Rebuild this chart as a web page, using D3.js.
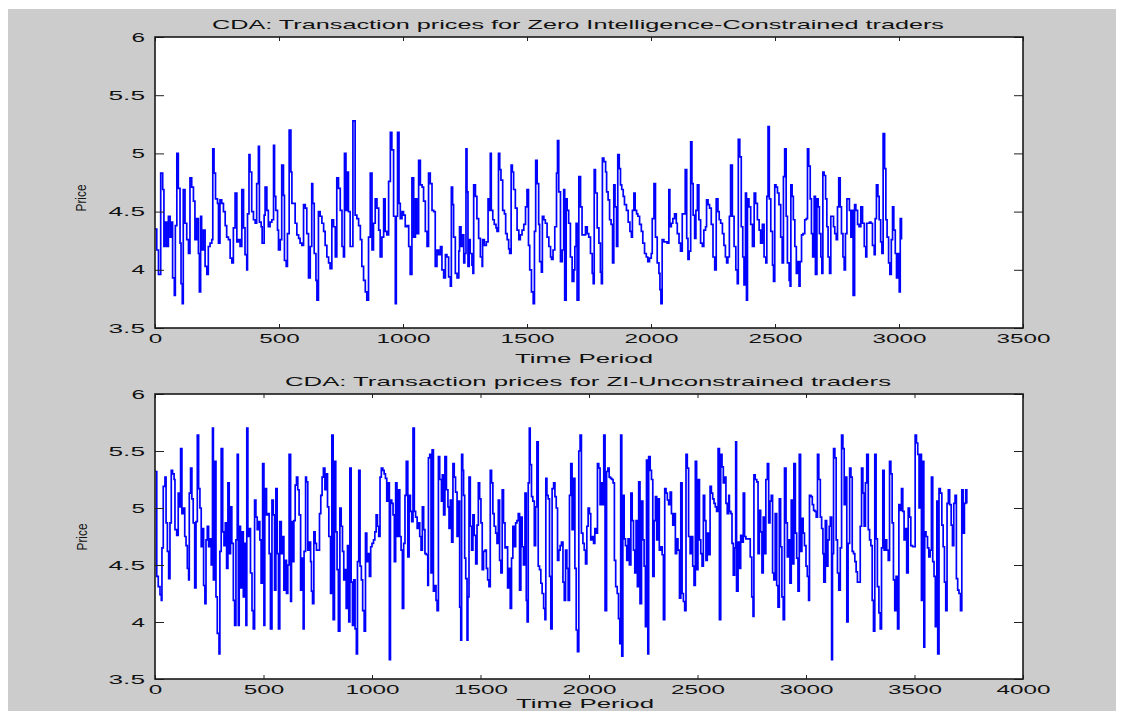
<!DOCTYPE html>
<html>
<head>
<meta charset="utf-8">
<script src="https://cdn.jsdelivr.net/npm/d3@7"></script>
<style>
  html, body { margin: 0; padding: 0; background: #ffffff; }
  svg { display: block; }
</style>
</head>
<body>
<svg id="fig" width="1124" height="711"></svg>
<script>
// ---- Axis ticks and labels ----
const priceTicks = [3.5, 4, 4.5, 5, 5.5, 6];
const timeTicksZIC = [0, 500, 1000, 1500, 2000, 2500, 3000, 3500];
const timeTicksZIU = [0, 500, 1000, 1500, 2000, 2500, 3000, 3500, 4000];
const titleZIC = "CDA: Transaction prices for Zero Intelligence-Constrained traders";
const titleZIU = "CDA: Transaction prices for ZI-Unconstrained traders";
const xLabel = "Time Period";
const yLabel = "Price";

// ---- Zero Intelligence-Constrained traders: transaction time and price ----
const timeZIC = [
0,7,14,23,31,36,40,47,54,61,67,71,78,82,88,94,101,105,110,114,121,128,135,141,148,155,161,168,175,179,
184,188,195,202,209,215,222,229,233,238,244,252,256,262,269,276,283,289,296,303,310,316,323,330,336,343,350,357,363,370,
373,379,383,390,397,404,410,417,421,428,432,440,444,451,457,464,471,478,482,487,494,498,505,511,518,522,529,534,541,548,
552,558,565,572,579,585,592,599,606,612,619,626,632,636,642,649,653,659,666,673,680,686,693,700,706,713,720,727,733,740,
747,754,760,764,770,774,780,787,794,798,807,814,821,828,834,841,848,854,861,868,875,881,888,895,902,908,915,922,928,935,
942,949,955,962,969,973,978,984,989,996,1002,1009,1016,1023,1029,1036,1043,1050,1056,1063,1070,1077,1083,1090,1097,1103,1110,1117,1124,1130,
1137,1144,1151,
1157,1164,1171,1177,1184,1191,1195,1200,1204,1211,1218,1225,1228,1234,1238,1245,1249,1254,1258,1262,
1267,1271,1278,1282,1285,1292,1298,1305,1312,1319,1321,1328,1336,1343,1347,1352,1356,1362,1368,1375,
1379,1385,1390,1395,1402,1409,1414,1420,1426,1430,1436,1441,1446,1453,1460,1467,1473,1480,1487,1494,
1500,1506,1511,1518,1525,1530,1535,1541,1547,1551,1558,1562,1568,1574,1581,1588,1595,1599,1605,1612,
1619,1623,1628,1635,1642,1648,1652,1658,1662,1668,1675,1682,1689,1693,1698,1702,1709,1716,1722,1729,
1736,1743,1749,1756,1763,1767,1771,1776,1783,1790,1796,1800,1804,1810,1817,1821,1827,1833,1839,1845,
1850,1855,1861,1866,1872,1877,1882,1888,1893,1901,1908,1915,1921,1925,1931,1936,1942,1947,1954,1961,
1967,1974,1981,1987,1994,2001,2005,2012,2018,2025,2032,2036,2040,2045,2052,2059,2065,2072,2076,2082,
2088,2095,2102,2106,2113,2119,2126,2133,2138,2144,2149,2154,2160,2165,2170,2176,2181,2187,2193,2200,
2207,2213,2220,2224,2230,2236,2243,2250,2257,2263,2270,2275,2281,2288,2294,2300,2305,2310,2316,2321,
2328,2335,2342,2348,2352,2358,2364,2370,2375,2381,2385,2389,2395,2402,2409,2416,2422,2429,2436,2442,
2449,2456,2463,2467,2472,2477,2483,2490,2494,2499,2504,2510,2516,2523,2529,2534,2539,2545,2550,2557,
2561,2564,2569,2574,2580,2586,2592,2597,2601,2607,2613,2620,2626,2631,2636,2642,2647,2652,2658,2663,
2669,2674,2679,2685,2689,2693,2698,2704,2709,2714,2720,2725,2730,2736,2741,2747,2752,2757,2763,2768,
2774,2779,2784,2790,2795,2800,2806,2811,2815,2821,2826,2833,2839,2846,2853,2860,2866,2870,2876,2881,
2887,2893,2900,2904,2909,2915,2920,2926,2931,2936,2942,2947,2952,2958,2963,2969,2974,2979,2985,2990,
2996,3001,3005,3010
];
const priceZIC = [
4.35,4.17,3.96,4.83,4.69,4.20,4.41,4.20,4.46,4.28,4.41,3.93,3.78,4.38,5.00,4.70,4.23,3.88,3.71,4.69,
4.40,4.26,4.14,4.79,4.71,4.59,4.26,4.44,4.14,3.81,4.46,4.17,4.34,4.03,3.96,4.20,4.23,4.26,5.04,4.83,
4.61,4.57,4.23,4.60,4.57,4.50,4.38,4.28,4.26,4.10,4.06,4.36,4.66,4.24,4.26,4.20,4.69,4.36,4.13,4.00,
4.48,4.99,4.84,4.50,4.43,4.40,4.74,5.06,4.41,4.37,4.23,4.47,4.71,4.51,4.37,4.41,4.43,5.07,4.63,4.51,
4.34,4.17,4.26,4.90,4.64,4.08,4.03,4.31,5.20,4.84,4.57,4.57,4.40,4.30,4.27,4.23,4.21,4.56,4.53,4.31,
3.93,4.20,4.74,4.57,4.14,3.91,3.74,4.50,4.46,4.40,4.33,4.21,4.11,4.06,4.01,4.43,4.37,4.11,4.79,4.70,
4.51,4.20,4.11,5.00,4.51,4.84,4.50,4.20,4.20,5.28,4.47,4.44,4.38,4.26,4.03,3.91,3.81,3.74,4.28,4.83,
4.17,4.40,4.61,4.53,4.34,4.11,4.28,4.61,4.33,4.30,4.76,5.18,5.03,4.46,3.71,4.46,5.18,4.57,4.44,4.50,
4.47,4.37,4.38,4.20,3.96,4.79,4.28,4.61,4.31,4.94,4.73,4.71,4.59,4.33,4.20,4.83,4.74,4.51,4.50,4.03,
4.17,4.13,4.20,
4.00,3.93,4.13,4.11,3.94,3.86,4.71,4.56,4.28,3.97,3.93,4.16,4.37,4.20,4.30,4.06,4.14,5.04,4.67,4.03,
4.26,4.14,4.04,3.97,4.73,4.63,4.44,4.27,4.11,4.03,4.26,4.21,4.24,4.61,4.51,5.00,4.51,4.43,4.39,4.36,
4.33,5.00,4.86,4.77,4.51,4.48,4.31,4.26,4.18,4.14,4.90,4.84,4.69,4.53,4.34,4.26,4.30,4.34,4.39,4.54,
4.69,4.21,4.00,3.81,3.71,4.33,4.94,4.74,4.39,4.07,3.98,4.46,4.43,4.40,4.28,4.20,4.11,4.09,4.17,4.37,
4.83,5.11,4.67,4.07,4.17,4.69,3.74,4.61,4.51,4.40,4.11,3.90,4.00,4.20,4.40,3.74,4.80,4.54,4.30,4.30,
4.37,4.31,4.28,4.14,3.97,3.88,4.86,4.66,4.36,4.23,3.98,3.88,4.96,4.93,4.84,4.67,4.60,4.43,4.39,4.06,
4.73,4.54,4.20,4.99,4.87,4.73,4.69,4.63,4.56,4.51,4.41,4.33,4.28,4.51,4.66,4.51,4.48,4.46,4.39,4.33,
4.23,4.14,4.11,4.07,4.10,4.14,4.44,4.74,4.28,4.06,3.97,3.83,3.71,4.26,4.24,4.24,4.23,4.69,4.37,4.40,
4.44,4.48,4.40,4.31,4.23,4.16,4.48,4.48,4.86,4.27,4.09,4.16,5.10,4.74,4.47,4.27,4.51,4.73,4.43,4.23,
4.20,4.34,4.37,4.60,4.56,4.53,4.39,4.11,4.00,4.61,4.50,4.43,4.40,4.31,4.21,4.11,4.06,4.11,4.46,4.90,
4.46,4.20,4.00,3.88,5.12,4.97,4.37,4.11,3.87,4.66,3.74,4.61,4.54,4.39,4.20,4.66,4.57,4.43,4.34,4.23,
4.39,4.11,4.06,4.63,5.23,4.61,4.33,4.04,3.90,4.73,4.71,4.66,4.56,4.28,4.06,4.80,5.04,4.46,4.06,3.91,
3.86,4.73,4.63,4.43,4.20,3.97,4.07,3.86,4.07,4.30,4.31,4.43,4.44,5.04,4.89,4.61,4.31,4.11,4.63,3.96,
4.61,4.54,4.31,4.11,3.97,4.84,4.81,4.61,4.37,4.11,3.97,4.46,4.46,4.37,4.31,4.26,4.54,4.79,4.54,4.31,
4.11,4.00,4.31,4.61,4.61,4.51,4.28,4.51,3.78,4.56,4.51,4.39,4.37,4.54,4.40,4.20,4.11,4.40,4.40,4.41,
4.40,4.21,4.13,4.44,4.73,4.63,4.43,4.24,4.14,5.17,4.87,4.43,4.28,4.06,3.96,4.26,4.54,4.34,4.14,3.93,
4.14,3.81,4.44,4.26
];

// ---- ZI-Unconstrained traders: transaction time and price ----
const timeZIU = [
0,8,15,23,29,32,38,46,51,57,63,69,75,81,88,92,100,107,112,118,124,130,137,143,149,155,158,164,170,176,
183,189,195,201,207,213,219,224,230,235,241,247,253,259,265,269,275,281,287,295,299,305,312,318,324,330,336,342,348,354,
361,367,373,379,384,388,394,400,407,413,419,423,428,434,440,447,453,459,465,471,477,483,489,496,502,506,514,520,526,532,
539,545,551,557,563,569,575,582,588,594,600,606,612,618,625,629,634,640,646,652,658,664,671,677,683,687,694,698,704,710,
717,721,726,732,738,744,752,758,764,770,776,783,789,795,801,809,815,821,827,833,839,845,852,858,864,870,875,881,887,893,
898,904,910,916,922,928,933,939,945,951,957,964,970,976,982,988,994,1000,1007,1013,1019,1025,1031,1037,1043,1050,1056,1062,1068,1074,
1080,1085,1091,1097,1103,1109,1115,1122,1128,1134,1140,1146,1152,1158,1165,1171,1177,1183,1189,1195,1201,1208,1214,1220,1226,1232,1238,1244,1250,1257,
1260,1266,1272,1277,1283,1289,1295,1300,1306,1312,
1320,1324,1330,1336,1343,1350,1355,1361,1367,1373,1379,1385,1392,1398,1404,1409,1413,1418,1422,1427,
1432,1438,1442,1447,1453,1459,1465,1471,1478,1484,1490,1496,1502,1508,1514,1521,1527,1533,1539,1545,
1551,1557,1563,1570,1576,1582,1588,1594,1600,1606,1613,1619,1625,1631,1637,1643,1649,1656,1662,1668,
1674,1680,1686,1692,1698,1705,1711,1715,1720,1725,1729,1735,1741,1748,1754,1760,1766,1772,1778,1784,
1791,1797,1801,1806,1812,1818,1824,1830,1837,1843,1849,1855,1861,1867,1873,1880,1886,1892,1898,1904,
1910,1916,1922,1929,1935,1941,1947,1953,1959,1965,1972,1978,1984,1990,1996,2002,2008,2015,2021,2027,
2033,2039,2045,2051,2057,2064,2068,2074,2081,2087,2093,2099,2105,2111,2117,2123,2130,2136,2142,2146,
2151,2156,2162,2168,2174,2180,2186,2193,2199,2205,2211,2217,2223,2229,2235,2242,2248,2254,2260,2265,
2271,2275,2282,2288,2294,2300,2306,2312,2318,2324,2331,2337,2343,2349,2355,2361,2367,2374,2380,2386,
2392,2398,2404,2410,2417,2423,2429,2435,2441,2447,2453,2459,2466,2472,2478,2484,2490,2496,2502,2509,
2515,2521,2527,2533,2539,2545,2552,2558,2564,2570,2576,2582,2588,2595,2601,2607,2613,2619,2625,2631,
2637,2644,
2647,2654,2659,2665,2671,2676,2680,2687,2693,2699,2705,2711,2717,2723,2731,2739,2743,2750,2756,2760,
2766,2773,2779,2785,2791,2797,2803,2809,2815,2822,2828,2834,2840,2846,2852,2858,2865,2871,2877,2883,
2889,2895,2901,2908,2914,2920,2926,2932,2938,2944,2951,2957,2963,2969,2975,2981,2987,2993,3000,3006,
3012,3016,3023,3029,3035,3041,3047,3053,3059,3066,3072,3078,3082,3089,3095,3101,3107,3112,3118,3122,
3127,3133,3139,3145,3151,3158,3164,3170,3176,3182,3188,3194,3201,3207,3213,3219,3225,3231,3237,3244,
3250,3256,3262,3268,3274,3280,3287,3293,3299,3305,3311,3317,3323,3329,3336,3342,3348,3354,3360,3366,
3372,3379,3385,3391,3397,3403,3409,3415,3422,3428,3434,3440,3446,3452,3458,3464,3471,3477,3483,3491,
3498,3503,3509,3515,3521,3527,3532,3537,3543,3547,3553,3560,3566,3572,3578,3584,3590,3596,3603,3607,
3613,3619,3626,3632,3638,3644,3650,3656,3662,3669,3675,3681,3687,3693,3699,3705,3712,3718,3724,3730,
3736,3741
];
const priceZIU = [
5.32,4.40,4.31,4.24,4.19,4.65,5.19,5.27,4.87,4.62,4.38,4.87,5.33,5.30,5.25,4.81,4.76,5.13,5.01,5.52,
4.95,5.00,4.75,4.67,4.47,4.37,5.13,5.35,5.08,4.87,4.30,4.88,5.64,5.17,5.00,4.66,4.82,4.32,4.16,4.72,
4.84,4.66,4.73,4.50,5.70,4.37,5.41,4.22,3.90,3.72,4.62,5.52,4.79,4.67,4.87,4.47,5.22,4.60,5.01,4.69,
4.19,3.97,4.72,5.47,3.97,4.84,4.30,4.79,4.22,4.69,3.97,5.70,4.75,4.82,4.43,4.10,3.94,5.07,4.92,4.81,
4.88,4.72,4.34,5.39,3.97,5.17,4.94,4.95,4.60,3.94,5.07,4.94,4.28,5.17,4.60,3.94,4.88,4.60,4.75,4.28,
4.54,4.25,4.50,5.47,4.18,4.88,4.53,4.89,5.20,5.27,5.16,4.94,4.28,4.56,3.94,4.62,5.27,5.23,4.63,4.70,
4.53,4.27,4.16,4.79,4.69,4.63,4.63,4.95,5.11,5.27,5.35,5.16,5.30,5.01,4.75,4.25,5.64,4.02,5.41,4.79,
4.46,3.92,5.00,4.84,4.62,4.37,4.46,4.12,4.67,4.00,5.35,4.35,3.97,4.37,3.94,3.72,4.53,5.33,4.49,4.37,
4.10,3.92,4.78,4.53,4.60,4.40,4.66,4.69,4.72,4.79,4.94,4.84,4.75,5.27,5.35,5.33,5.30,5.26,5.06,5.22,
3.67,5.07,5.04,4.94,4.53,5.22,4.75,5.16,4.75,4.63,4.12,4.69,5.11,5.41,4.57,5.11,4.97,4.88,5.70,4.97,
4.92,4.82,4.87,4.75,4.63,5.01,4.81,4.60,4.59,4.32,5.44,5.47,4.43,5.51,4.27,4.32,4.19,4.10,5.45,5.25,
5.06,5.29,4.94,5.45,5.16,5.01,4.82,5.07,4.70,5.39,5.27,5.14,4.75,5.06,4.13,3.84,5.47,5.33,5.11,4.56,
4.38,3.84,4.22,5.27,4.84,4.63,4.94,4.76,4.51,4.85,5.22,5.08,4.87,4.46,4.62,4.63,4.47,4.37,4.31,5.33,
5.22,4.95,4.84,4.78,4.69,5.07,4.54,4.43,5.16,4.87,4.65,4.66,4.30,4.47,4.12,4.56,4.84,4.66,4.87,4.89,
4.95,4.28,4.92,4.66,4.50,5.13,4.19,4.00,5.22,5.70,5.38,5.10,5.06,4.67,5.01,5.58,4.49,4.46,4.34,4.25,
4.12,4.02,5.26,5.11,5.08,4.40,3.94,5.17,5.22,5.10,5.00,4.54,4.63,4.67,4.70,4.35,4.19,4.63,4.47,4.19,
5.11,5.39,4.81,5.26,4.47,3.93,3.74,5.50,5.64,4.78,4.69,4.63,4.51,4.84,5.00,4.95,4.72,4.75,4.69,4.82,
4.78,5.39,5.35,5.03,5.22,5.03,5.64,4.10,5.32,5.35,5.27,5.26,5.25,5.22,4.54,4.31,4.25,4.03,3.81,5.64,
3.70,5.11,4.73,4.67,4.54,4.73,4.50,5.13,4.89,4.63,4.43,4.89,4.31,5.23,4.16,5.06,4.72,4.49,3.96,5.42,
3.72,5.45,5.33,5.25,4.40,4.89,5.10,4.72,5.08,4.63,4.66,4.59,4.02,5.17,5.13,5.07,5.03,5.14,4.95,4.85,
4.95,4.60,4.73,4.63,4.21,5.22,4.25,4.18,4.10,5.47,5.35,4.75,4.60,4.75,4.49,4.32,5.41,4.46,5.25,4.72,
4.60,4.49,5.11,4.89,4.54,4.78,4.59,5.19,5.13,5.08,5.04,5.01,4.97,5.52,4.02,5.47,5.36,5.22,5.27,5.04,
4.95,5.11,
4.97,4.95,4.69,4.41,4.65,5.58,4.27,4.70,4.47,4.76,4.70,5.13,4.75,4.73,4.73,4.73,4.57,4.22,4.05,5.29,
5.25,5.23,4.60,4.98,4.79,4.43,4.92,4.60,5.25,5.39,4.87,5.06,5.11,4.43,4.37,4.95,4.32,4.13,5.08,4.66,
4.22,4.02,5.35,4.87,4.57,4.72,4.34,5.07,4.51,5.39,4.78,4.56,4.27,5.47,4.62,4.91,4.78,4.67,4.49,4.40,
4.19,5.11,5.10,5.03,4.98,4.97,4.92,5.47,5.25,4.92,4.82,4.60,4.35,4.89,4.49,4.72,4.84,4.92,3.67,4.60,
5.52,5.44,4.72,4.43,4.28,4.65,5.64,5.52,5.03,5.27,4.00,4.69,5.35,5.27,4.62,4.60,4.53,4.44,4.35,4.35,
4.84,5.35,5.13,4.84,5.22,5.47,4.81,4.72,4.67,4.19,3.92,5.47,4.73,4.31,4.08,3.94,4.65,5.33,4.63,4.72,
4.63,4.54,5.41,5.30,4.87,4.37,4.10,4.40,3.94,5.03,4.98,5.17,4.97,4.72,4.82,4.43,5.00,4.92,4.67,4.66,
4.66,5.64,5.57,5.47,5.00,5.47,4.19,5.41,3.78,4.79,4.75,4.65,4.57,4.63,5.27,4.53,4.40,3.96,5.06,3.72,
5.17,5.13,4.85,4.66,4.35,4.10,5.04,5.16,5.03,4.85,4.67,5.04,5.11,4.38,4.28,4.25,4.10,5.16,4.78,5.04,
5.16,5.04
];

// ---- Figure ----
const W = 1124, H = 711;
const FONT = '"Liberation Sans", Arial, Helvetica, sans-serif';
const FS = 13;
const INK = '#111111';

const svg = d3.select('#fig');

// grey figure background
svg.append('rect')
  .attr('x', 8).attr('y', 9)
  .attr('width', 1108).attr('height', H - 9)
  .attr('fill', '#cccccc');

// the figure's text is drawn wide; each label gets an explicit length
const glyphW = ch => (ch === '.' ? 9.5 : 13.5);
const labelWidth = s => String(s).split('').reduce((a, c) => a + glyphW(c), 0);

function wideText(g, str, x, y, width, anchor) {
  return g.append('text')
    .attr('x', x).attr('y', y)
    .attr('text-anchor', anchor || 'middle')
    .attr('textLength', width)
    .attr('lengthAdjust', 'spacingAndGlyphs')
    .attr('font-family', FONT)
    .attr('font-size', FS)
    .attr('fill', INK)
    .text(str);
}

function drawPanel(p) {
  const g = svg.append('g');
  const x = d3.scaleLinear().domain([0, p.xMax]).range([p.left, p.right]);
  const y = d3.scaleLinear().domain([3.5, 6]).range([p.bottom, p.top]);

  // white plotting area
  g.append('rect')
    .attr('x', p.left).attr('y', p.top)
    .attr('width', p.right - p.left).attr('height', p.bottom - p.top)
    .attr('fill', '#ffffff');

  // price series
  const clipId = 'clip-' + p.id;
  svg.append('clipPath').attr('id', clipId)
    .append('rect')
    .attr('x', p.left).attr('y', p.top)
    .attr('width', p.right - p.left).attr('height', p.bottom - p.top);

  const series = p.times.map((t, i) => [t, p.prices[i]]);
  const line = d3.line()
    .x(d => x(d[0]))
    .y(d => y(d[1]))
    .curve(d3.curveStepAfter);

  g.append('path')
    .datum(series)
    .attr('clip-path', 'url(#' + clipId + ')')
    .attr('d', line)
    .attr('fill', 'none')
    .attr('stroke', '#0000ff')
    .attr('stroke-width', 1.7)
    .attr('stroke-linejoin', 'miter');

  // axes with inward ticks on all four sides
  const styleAxis = (sel) => {
    sel.select('.domain').remove();
    sel.selectAll('.tick line').attr('stroke', '#222').attr('stroke-width', 1);
  };

  const xb = g.append('g').attr('transform', `translate(0,${p.bottom})`)
    .call(d3.axisBottom(x).tickValues(p.xTicks).tickSizeInner(-4).tickSizeOuter(0).tickPadding(p.xPad).tickFormat(d3.format('d')));
  styleAxis(xb);
  xb.selectAll('.tick text').each(function (d) {
    const s = String(d);
    d3.select(this)
      .attr('font-family', FONT).attr('font-size', FS).attr('fill', INK)
      .attr('textLength', labelWidth(s)).attr('lengthAdjust', 'spacingAndGlyphs');
  });

  const xt = g.append('g').attr('transform', `translate(0,${p.top})`)
    .call(d3.axisTop(x).tickValues(p.xTicks).tickSizeInner(-4).tickSizeOuter(0).tickFormat(''));
  styleAxis(xt);

  const yl = g.append('g').attr('transform', `translate(${p.left},0)`)
    .call(d3.axisLeft(y).tickValues(priceTicks).tickSizeInner(-9).tickSizeOuter(0).tickPadding(10).tickFormat(d3.format('')));
  styleAxis(yl);
  yl.selectAll('.tick text').each(function (d) {
    const s = String(d);
    d3.select(this)
      .attr('font-family', FONT).attr('font-size', FS).attr('fill', INK)
      .attr('textLength', labelWidth(s)).attr('lengthAdjust', 'spacingAndGlyphs');
  });

  const yr = g.append('g').attr('transform', `translate(${p.right},0)`)
    .call(d3.axisRight(y).tickValues(priceTicks).tickSizeInner(-9).tickSizeOuter(0).tickFormat(''));
  styleAxis(yr);

  // axes box
  g.append('rect')
    .attr('x', p.left).attr('y', p.top)
    .attr('width', p.right - p.left).attr('height', p.bottom - p.top)
    .attr('fill', 'none')
    .attr('stroke', '#1a1a1a')
    .attr('stroke-width', 1.6);

  // title and axis labels
  wideText(g, p.title, p.titleX, p.titleY, p.titleW);
  wideText(g, xLabel, p.xLabelX, p.xLabelY, 138);

  g.append('text')
    .attr('transform', `translate(${p.yLabelX},${p.yLabelY}) rotate(-90)`)
    .attr('text-anchor', 'middle')
    .attr('textLength', 27)
    .attr('lengthAdjust', 'spacingAndGlyphs')
    .attr('font-family', FONT)
    .attr('font-size', 15)
    .attr('fill', INK)
    .text(yLabel);
}

drawPanel({
  id: 'zic', left: 155, right: 1023, top: 37, bottom: 328,
  xMax: 3500, xTicks: timeTicksZIC, xPad: 5.5,
  times: timeZIC, prices: priceZIC,
  title: titleZIC, titleX: 578, titleY: 28.6, titleW: 732,
  xLabelX: 584, xLabelY: 362.6,
  yLabelX: 86, yLabelY: 198
});

drawPanel({
  id: 'ziu', left: 155, right: 1023, top: 394, bottom: 679,
  xMax: 4000, xTicks: timeTicksZIU, xPad: 6.2,
  times: timeZIU, prices: priceZIU,
  title: titleZIU, titleX: 588, titleY: 385.6, titleW: 606,
  xLabelX: 585, xLabelY: 707.6,
  yLabelX: 87, yLabelY: 537
});
</script>
</body>
</html>
